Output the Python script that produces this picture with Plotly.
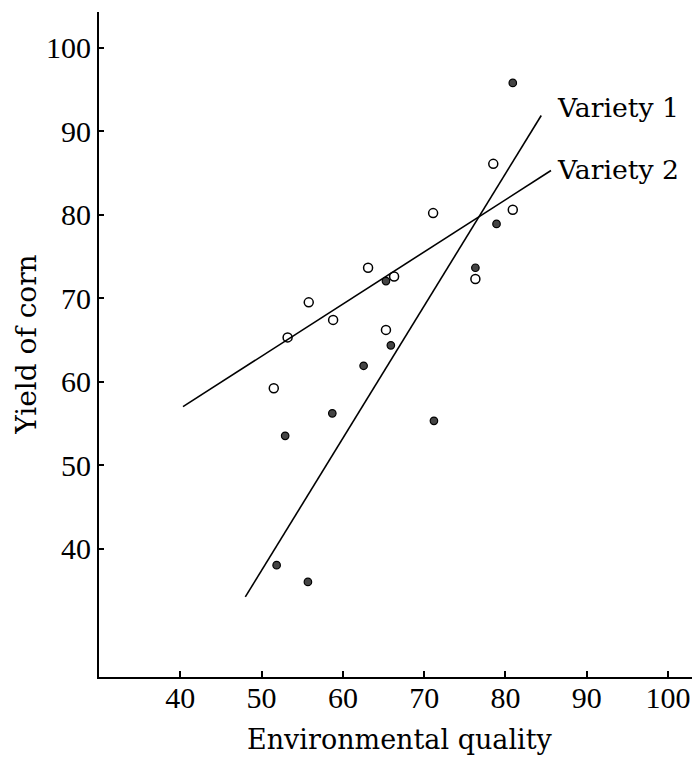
import plotly.graph_objects as go

# Variety 1 (filled points)
v1_x = [65.3, 65.9, 62.55, 58.7, 52.9, 71.2, 80.9, 78.9, 76.3, 51.85, 55.7]
v1_y = [72.05, 64.35, 61.9, 56.2, 53.5, 55.3, 95.8, 78.9, 73.65, 38.0, 36.0]
# Variety 2 (open points)
v2_x = [63.1, 66.3, 55.8, 58.8, 53.2, 65.3, 51.5, 78.5, 71.1, 80.9, 76.3]
v2_y = [73.65, 72.6, 69.5, 67.4, 65.3, 66.2, 59.2, 86.1, 80.2, 80.6, 72.3]

# Fitted lines (endpoints)
v1_line_x = [48.0, 84.4]
v1_line_y = [34.2, 91.9]
v2_line_x = [40.33, 85.6]
v2_line_y = [57.0, 85.3]

x_ticks = [40, 50, 60, 70, 80, 90, 100]
y_ticks = [40, 50, 60, 70, 80, 90, 100]

text_font = "DejaVu Serif"
tick_font = "Liberation Serif"

fig = go.Figure()
fig.add_trace(go.Scatter(x=v1_line_x, y=v1_line_y, mode="lines",
                         line=dict(color="black", width=1.6), showlegend=False, hoverinfo="skip"))
fig.add_trace(go.Scatter(x=v2_line_x, y=v2_line_y, mode="lines",
                         line=dict(color="black", width=1.6), showlegend=False, hoverinfo="skip"))
fig.add_trace(go.Scatter(x=v2_x, y=v2_y, mode="markers", name="Variety 2",
                         marker=dict(symbol="circle-open", size=9, color="black", line=dict(width=1.5)),
                         showlegend=False))
fig.add_trace(go.Scatter(x=v1_x, y=v1_y, mode="markers", name="Variety 1",
                         marker=dict(symbol="circle", size=7.5, color="#444444",
                                     line=dict(color="black", width=1.2)),
                         showlegend=False))

fig.add_annotation(x=86.07, y=92.9, xref="x", yref="y", text="Variety 1", showarrow=False,
                   xanchor="left", yanchor="middle", font=dict(family=text_font, size=26.7, color="black"))
fig.add_annotation(x=86.07, y=85.4, xref="x", yref="y", text="Variety 2", showarrow=False,
                   xanchor="left", yanchor="middle", font=dict(family=text_font, size=26.7, color="black"))

fig.add_annotation(x=0.5, y=-0.094, xref="paper", yref="paper", text="Environmental quality",
                   showarrow=False, xanchor="center", yanchor="middle",
                   font=dict(family=text_font, size=27, color="black"))
fig.add_annotation(x=-0.121, y=0.5, xref="paper", yref="paper", text="Yield of corn",
                   showarrow=False, xanchor="center", yanchor="middle", textangle=-90,
                   font=dict(family=text_font, size=28, color="black"))

fig.update_layout(
    width=692, height=753,
    margin=dict(l=91, r=0, t=4, b=84),
    paper_bgcolor="white", plot_bgcolor="white",
    xaxis=dict(range=[30, 103.93], tickvals=x_ticks, ticktext=[str(v) for v in x_ticks],
               showgrid=False, zeroline=False, showline=True, linecolor="black", linewidth=2,
               ticks="inside", ticklen=6, tickwidth=1.5, tickcolor="black",
               tickfont=dict(family=tick_font, size=30, color="black"), ticklabelstandoff=-7),
    yaxis=dict(range=[24.6, 104.3], tickvals=y_ticks, ticktext=[str(v) for v in y_ticks],
               showgrid=False, zeroline=False, showline=True, linecolor="black", linewidth=2,
               ticks="inside", ticklen=5, tickwidth=1.5, tickcolor="black",
               tickfont=dict(family=tick_font, size=30, color="black"), ticklabelstandoff=0),
)

fig.write_html("out.html")
